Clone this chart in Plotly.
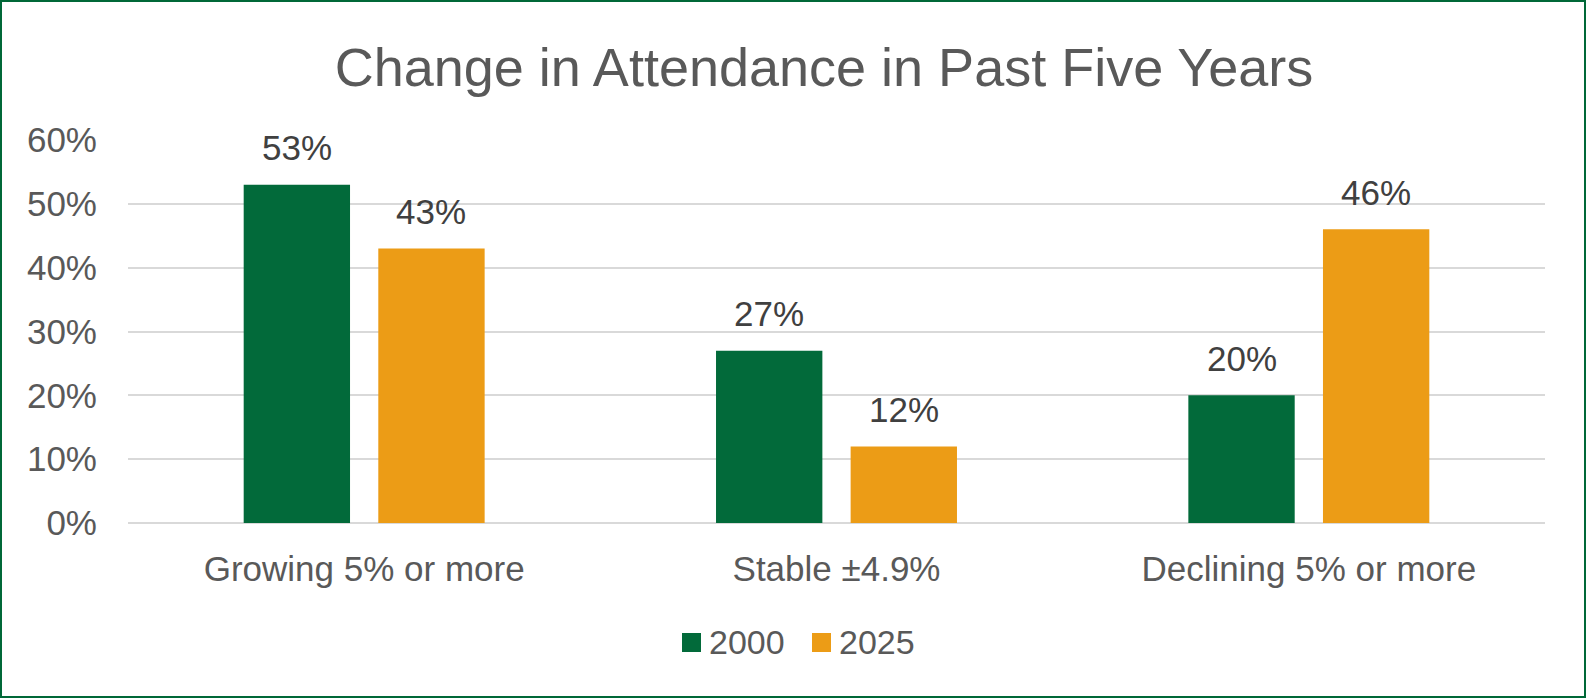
import plotly.graph_objects as go

categories = ["Growing 5% or more", "Stable ±4.9%", "Declining 5% or more"]
series_names = ["2000", "2025"]
values_2000 = [53, 27, 20]
values_2025 = [43, 12, 46]
y_ticks = [0, 10, 20, 30, 40, 50, 60]
y_tick_labels = ["0%", "10%", "20%", "30%", "40%", "50%", "60%"]

colors = ["#026A3A", "#EC9C16"]
W, H = 1586, 698
ML, MR, MT, MB = 128, 41, 140, 175
PW, PH = W - ML - MR, H - MT - MB
FONT = "Liberation Sans, Arial"

fig = go.Figure()
for name, vals, col in zip(series_names, [values_2000, values_2025], colors):
    fig.add_trace(go.Bar(
        x=categories, y=vals, name=name, marker=dict(color=col, line=dict(width=0)),
        cliponaxis=False, showlegend=False,
    ))

# data labels
slot = (1 - 0.43) * (PW / 3) / 2
for i, vals in enumerate([values_2000, values_2025]):
    shift = (-0.5 if i == 0 else 0.5) * slot
    for c, v in zip(categories, vals):
        fig.add_annotation(x=c, y=v, xref="x", yref="y", text=f"{v}%", showarrow=False,
                           xshift=shift, yshift=37, yanchor="middle",
                           font=dict(family=FONT, size=35, color="#404040"))

# legend (manual, to get larger squares)
def px_x(p):
    return (p - ML) / PW

def px_y(p):
    return 1 - (p - MT) / PH

legend_sq_x = [682, 812]
for name, col, sx in zip(series_names, colors, legend_sq_x):
    fig.add_shape(type="rect", xref="paper", yref="paper",
                  x0=px_x(sx), x1=px_x(sx + 19), y0=px_y(652), y1=px_y(633),
                  fillcolor=col, line=dict(width=0))
    fig.add_annotation(xref="paper", yref="paper", x=px_x(sx + 25), y=px_y(642),
                       text=name, showarrow=False, xanchor="left", yanchor="middle",
                       font=dict(family=FONT, size=34, color="#595959"))

# border
fig.add_shape(type="rect", xref="paper", yref="paper",
              x0=(-ML + 1) / PW, x1=1 + (MR - 1) / PW,
              y0=(-MB + 1) / PH, y1=1 + (MT - 1) / PH,
              line=dict(color="#006838", width=2), layer="above")

fig.update_layout(
    width=W, height=H,
    margin=dict(l=ML, r=MR, t=MT, b=MB),
    paper_bgcolor="white", plot_bgcolor="white",
    font=dict(family=FONT, color="#595959"),
    title=dict(text="Change in Attendance in Past Five Years", x=824 / W, xanchor="center",
               xref="container", yref="container", y=1 - 67 / H, yanchor="middle",
               font=dict(size=54, color="#595959")),
    barmode="group", bargap=0.43, bargroupgap=0.21,
    xaxis=dict(showgrid=False, showline=False, ticks="", tickfont=dict(size=35, color="#595959"),
               ticklabelstandoff=22),
    yaxis=dict(range=[0, 60], tickvals=y_ticks, ticktext=y_tick_labels, showgrid=True,
               gridcolor="#D9D9D9", gridwidth=2, zeroline=True, zerolinecolor="#D9D9D9",
               zerolinewidth=2, showline=False, ticks="",
               tickfont=dict(size=35, color="#595959"), ticklabelstandoff=30),
)

fig.write_html("out.html", config={"displayModeBar": False},
               post_script="document.body.style.margin='0';document.body.style.overflow='hidden';")
